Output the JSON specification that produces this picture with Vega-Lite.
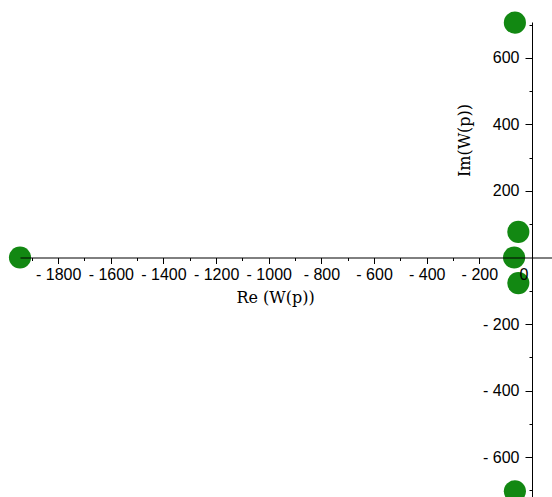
{
  "$schema": "https://vega.github.io/schema/vega-lite/v6.json",
  "autosize": {"type": "none"},
  "padding": {"left": 20, "top": 22, "right": 0, "bottom": 0},
  "width": 532,
  "height": 475,
  "background": "white",
  "config": {
    "view": {"stroke": null},
    "axis": {
      "grid": false,
      "domainColor": "black",
      "domainWidth": 1,
      "tickColor": "black",
      "tickWidth": 1,
      "labelColor": "black",
      "titleColor": "black",
      "labelFont": "Liberation Sans",
      "labelFontSize": 16,
      "titleFont": "DejaVu Serif",
      "titleFontSize": 16,
      "titleFontWeight": "normal"
    }
  },
  "data": {
    "values": [
      {"re": -65, "im": 706},
      {"re": -52, "im": 77},
      {"re": -68, "im": 0},
      {"re": -52, "im": -77},
      {"re": -65, "im": -703},
      {"re": -1945, "im": 0}
    ]
  },
  "layer": [
    {
      "mark": {"type": "point", "filled": true, "opacity": 0},
      "encoding": {
        "x": {
          "field": "re", "type": "quantitative",
          "scale": {"domain": [-1945, 76], "nice": false, "zero": false},
          "axis": {
            "values": [-1900, -1700, -1500, -1300, -1100, -900, -700, -500, -300, -100],
            "orient": "bottom", "offset": -239.5, "tickSize": 3,
            "labels": false, "domain": false, "title": null
          }
        },
        "y": {
          "field": "im", "type": "quantitative",
          "scale": {"domain": [-720, 708], "nice": false, "zero": false},
          "axis": {
            "values": [-700, -500, -300, -100, 100, 300, 500, 700],
            "orient": "left", "offset": -512, "tickSize": 3,
            "labels": false, "domain": false, "title": null
          }
        }
      }
    },
    {
      "mark": {"type": "circle", "size": 490, "color": "#128812", "opacity": 1, "clip": false},
      "encoding": {
        "x": {
          "field": "re", "type": "quantitative",
          "scale": {"domain": [-1945, 76], "nice": false, "zero": false},
          "axis": {
            "values": [-1800, -1600, -1400, -1200, -1000, -800, -600, -400, -200, 0],
            "orient": "bottom", "offset": -239.5, "tickSize": 6, "labelPadding": 3,
            "zindex": 1,
            "labelExpr": "datum.value < 0 ? '- ' + (-datum.value) : '0'",
            "labelAlign": {"condition": {"test": "datum.value === 0", "value": "right"}, "value": "center"},
            "labelOffset": {"condition": {"test": "datum.value === 0", "value": -4}, "value": 0},
            "labelFlush": false, "labelOverlap": false,
            "title": "Re (W(p))", "titlePadding": 7, "titleX": 255
          }
        },
        "y": {
          "field": "im", "type": "quantitative",
          "scale": {"domain": [-720, 708], "nice": false, "zero": false},
          "axis": {
            "values": [-600, -400, -200, 200, 400, 600],
            "orient": "left", "offset": -512, "tickSize": 7, "labelPadding": 6,
            "labelExpr": "datum.value < 0 ? '- ' + (-datum.value) : '' + datum.value",
            "labelFlush": false, "labelOverlap": false,
            "title": "Im(W(p))", "titleX": -68, "titleY": 118,
            "titleBaseline": "middle", "titleAlign": "center", "titleAngle": -90
          }
        }
      }
    }
  ],
  "resolve": {"axis": {"x": "independent", "y": "independent"}}
}
